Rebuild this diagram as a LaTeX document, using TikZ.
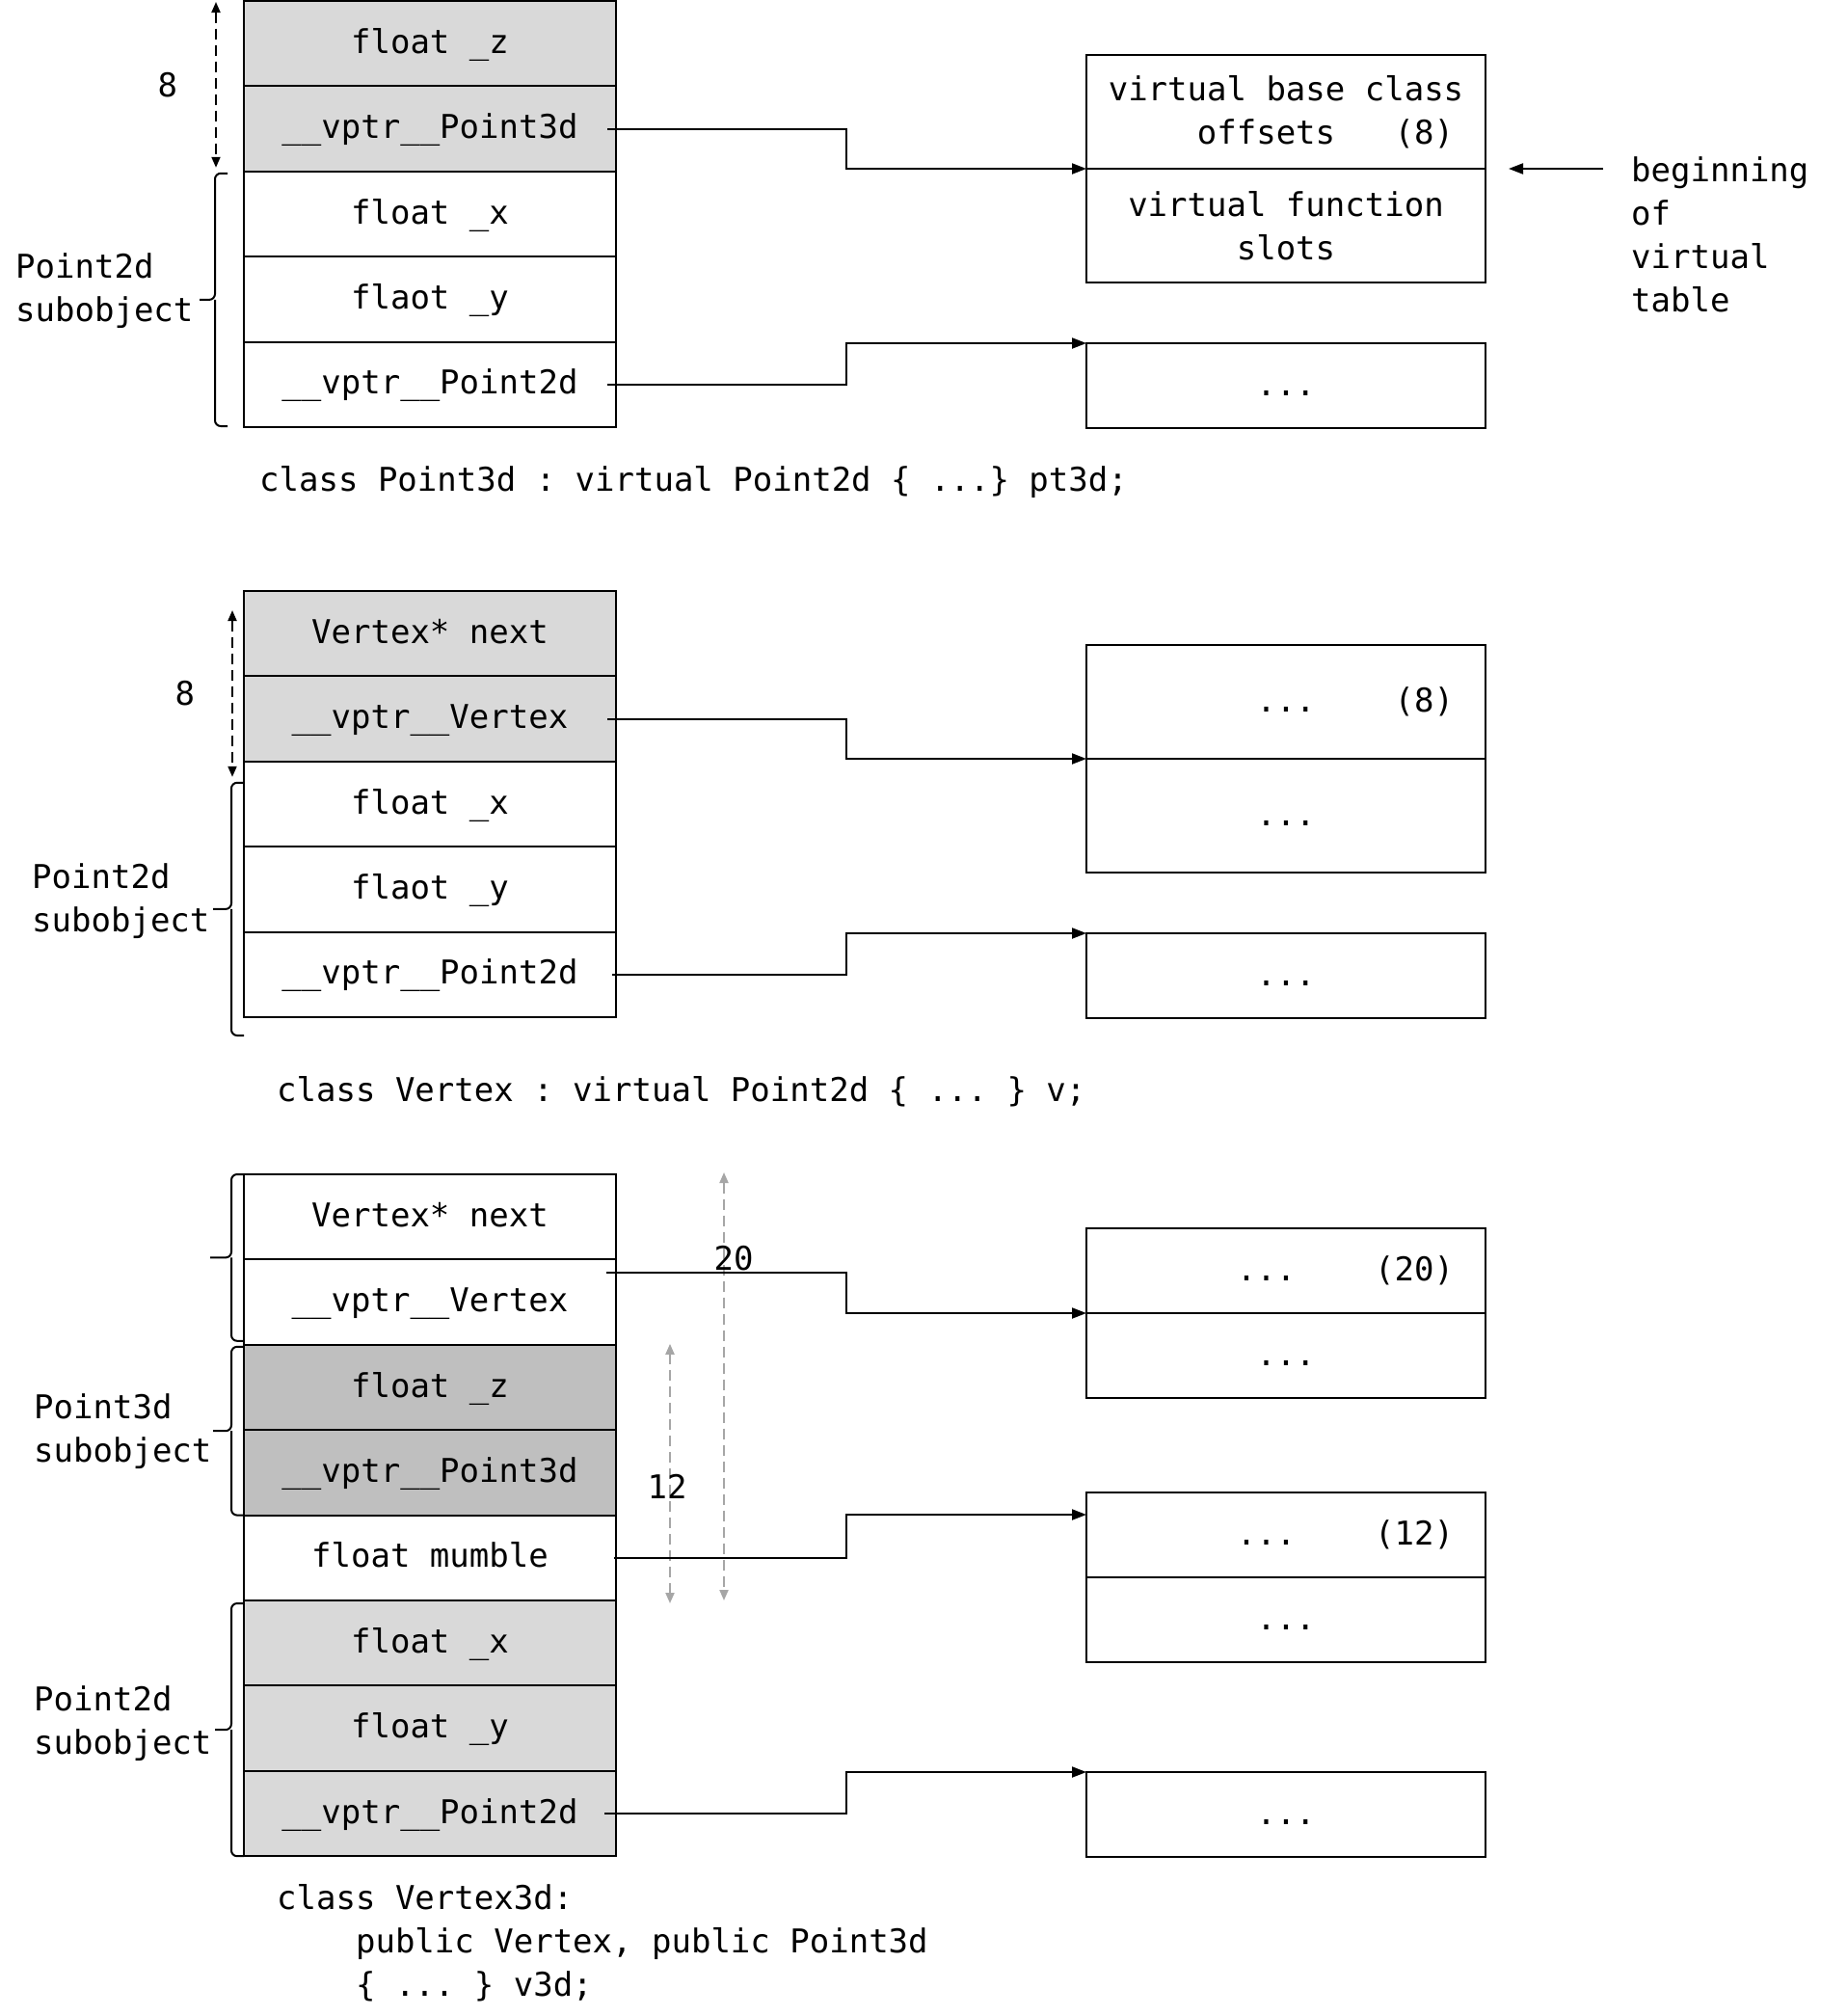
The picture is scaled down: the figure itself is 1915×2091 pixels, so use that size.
\documentclass[tikz,border=0pt]{standalone}
\usepackage{fontspec}
\usepackage{tikz}
\usetikzlibrary{arrows.meta,positioning,calc}
\setmonofont{DejaVu Sans Mono}
\definecolor{lightcell}{HTML}{D9D9D9}
\definecolor{darkcell}{HTML}{BFBFBF}
\definecolor{dimgray}{HTML}{A6A6A6}
\tikzset{
  cell/.style    ={draw,line width=2pt,minimum width=386pt,minimum height=88.4pt,
                   inner sep=0pt,outer sep=0pt,text height=27pt,text depth=7pt},
  slot/.style    ={draw,line width=2pt,minimum width=414pt,minimum height=88pt,
                   inner sep=0pt,outer sep=0pt,text height=27pt,text depth=7pt},
  tallslot/.style={slot,minimum height=118pt},
  tallnote/.style={draw,line width=2pt,minimum width=414pt,minimum height=118pt,
                   inner sep=0pt,outer sep=0pt,align=center},
  sidetag/.style ={inner sep=0pt,align=left},
  link/.style    ={-{Triangle[length=15pt,width=11pt]},line width=2pt},
  dimarrow/.style={{Triangle[length=11pt,width=9pt]}-{Triangle[length=11pt,width=9pt]},
                   line width=2pt,dash pattern=on 11pt off 6pt},
  paledim/.style ={dimarrow,draw=dimgray},
  bracket/.style ={line width=2pt,rounded corners=6pt}
}
\begin{document}
\begin{tikzpicture}[x=1pt,y=-1pt,font=\ttfamily\fontsize{34pt}{45pt}\selectfont]
\useasboundingbox (0,0) rectangle (1915,2091);
\coordinate (bend) at (878,0);

% --- class Point3d : virtual Point2d
\node[cell,fill=lightcell,anchor=north] (pz) at (446,1) {float \_z};
\node[cell,fill=lightcell,below=0pt of pz] (pvp3) {\_\_vptr\_\_Point3d};
\node[cell,below=0pt of pvp3] (px) {float \_x};
\node[cell,below=0pt of px] (py) {flaot \_y};
\node[cell,below=0pt of py] (pvp2) {\_\_vptr\_\_Point2d};
\coordinate (b1t) at ($(px.north west)+(-17,2)$);
\coordinate (b1b) at ($(pvp2.south west)+(-17,-1)$);
\draw[bracket] (b1t) -| ($(b1t)!0.5!(b1b)+(-13,0)$) -- ++(-16,0) ++(16,0) |- (b1b);
\node[sidetag,anchor=west] (p2sub) at (16,302) {Point2d\\subobject};
\draw[dimarrow] ($(pz.north west)+(-29,1)$) -- node[left=39pt,inner sep=0pt] (off8a) {8}
  ($(pvp3.south west)+(-29,-4)$);

\node[tallnote,anchor=north] (vbo) at (1334,57) {virtual base class\\\hphantom{0000}offsets~~~(8)};
\node[tallnote,below=0pt of vbo] (vfs) {virtual function\\slots};
\node[slot,anchor=north] (p2tab) at (1334,356) {...};
\node[sidetag,anchor=west] (vtbeg) at (1692,243) {beginning\\of\\virtual\\table};

\coordinate (s1) at ($(pvp3.east)+(-9,0)$);
\coordinate (s2) at ($(pvp2.east)+(-9,0)$);
\draw[link] (s1) -- (s1 -| bend) |- (vfs.north west);
\draw[link] (s2) -- (s2 -| bend) |- (p2tab.north west);
\draw[link] ($(vtbeg.west |- vfs.north)+(-29,0)$) -- ($(vfs.north east)+(24,0)$);

\node[sidetag,anchor=west] (pt3dcap) at (269,500) {class Point3d : virtual Point2d \{ ...\} pt3d;};

% --- class Vertex : virtual Point2d
\node[cell,fill=lightcell,anchor=north] (vnext) at (446,613) {Vertex* next};
\node[cell,fill=lightcell,below=0pt of vnext] (vvp) {\_\_vptr\_\_Vertex};
\node[cell,below=0pt of vvp] (vx) {float \_x};
\node[cell,below=0pt of vx] (vy) {flaot \_y};
\node[cell,below=0pt of vy] (vvp2) {\_\_vptr\_\_Point2d};
\coordinate (b2t) at ($(vx.north west)+(0,22)$);
\coordinate (b2b) at ($(vvp2.south west)+(0,19)$);
\draw[bracket] (b2t) -| ($(b2t)!0.5!(b2b)+(-13,0)$) -- ++(-19,0) ++(19,0) |- (b2b);
\node[sidetag,anchor=west] (p2subv) at (33,935) {Point2d\\subobject};
\draw[dimarrow] ($(vnext.north west)+(-12,20)$) -- node[left=38pt,inner sep=0pt] (off8b) {8}
  ($(vvp.south west)+(-12,16)$);

\node[tallslot,anchor=north] (vtop) at (1334,669) {\hphantom{0000000}...~~~~(8)};
\node[tallslot,below=0pt of vtop] (vbot) {...};
\node[slot,anchor=north] (vdtab) at (1334,968) {...};

\coordinate (s3) at ($(vvp.east)+(-9,0)$);
\coordinate (s4) at ($(vvp2.east)+(-4,0)$);
\draw[link] (s3) -- (s3 -| bend) |- (vbot.north west);
\draw[link] (s4) -- (s4 -| bend) |- (vdtab.north west);

\node[sidetag,anchor=west] (vcap) at (287,1132) {class Vertex : virtual Point2d \{ ... \} v;};

% --- class Vertex3d : public Vertex, public Point3d
\node[cell,anchor=north] (wnext) at (446,1218) {Vertex* next};
\node[cell,below=0pt of wnext] (wvp) {\_\_vptr\_\_Vertex};
\node[cell,fill=darkcell,below=0pt of wvp] (wz) {float \_z};
\node[cell,fill=darkcell,below=0pt of wz] (wvp3) {\_\_vptr\_\_Point3d};
\node[cell,below=0pt of wvp3] (wmum) {float mumble};
\node[cell,fill=lightcell,below=0pt of wmum] (wx) {float \_x};
\node[cell,fill=lightcell,below=0pt of wx] (wy) {float \_y};
\node[cell,fill=lightcell,below=0pt of wy] (wvp2) {\_\_vptr\_\_Point2d};
\coordinate (b3t) at (wnext.north west);
\coordinate (b3b) at ($(wvp.south west)+(0,-4)$);
\coordinate (b4t) at ($(wz.north west)+(0,2)$);
\coordinate (b4b) at (wvp3.south west);
\coordinate (b5t) at ($(wx.north west)+(0,3)$);
\coordinate (b5b) at (wvp2.south west);
\draw[bracket] (b3t) -| ($(b3t)!0.5!(b3b)+(-13,0)$) -- ++(-22,0) ++(22,0) |- (b3b);
\draw[bracket] (b4t) -| ($(b4t)!0.5!(b4b)+(-13,0)$) -- ++(-19,0) ++(19,0) |- (b4b);
\draw[bracket] (b5t) -| ($(b5t)!0.5!(b5b)+(-13,0)$) -- ++(-17,0) ++(17,0) |- (b5b);
\node[sidetag,anchor=west] (p3subw) at (35,1485) {Point3d\\subobject};
\node[sidetag,anchor=west] (p2subw) at (35,1788) {Point2d\\subobject};

\draw[paledim] ($(wnext.north east)+(112,-2)$) -- node[pos=0.2,xshift=10pt,inner sep=0pt] (off20) {20}
  ($(wmum.south east)+(112,0)$);
\draw[paledim] ($(wz.north east)+(56,-1)$) -- node[pos=0.55,xshift=-3pt,inner sep=0pt] (off12) {12}
  ($(wmum.south east)+(56,3)$);

\node[slot,anchor=north] (w20) at (1334,1274) {\hphantom{000000}...~~~~(20)};
\node[slot,below=0pt of w20] (w20b) {...};
\node[slot,anchor=north] (w12) at (1334,1548) {\hphantom{000000}...~~~~(12)};
\node[slot,below=0pt of w12] (w12b) {...};
\node[slot,anchor=north] (w2tab) at (1334,1838) {...};
\coordinate (w12in) at ($(w12.north west)+(0,23)$);

\coordinate (t1) at ($(wvp.east)+(-10,-31)$);
\coordinate (t2) at ($(wmum.east)+(-2,0)$);
\coordinate (t3) at ($(wvp2.east)+(-12,0)$);
\draw[link] (t1) -- (t1 -| bend) |- (w20b.north west);
\draw[link] (t2) -- (t2 -| bend) |- (w12in);
\draw[link] (t3) -- (t3 -| bend) |- (w2tab.north west);

\node[sidetag,anchor=west] (v3dcap) at (287,2015)
  {class Vertex3d:\\\hphantom{0000}public Vertex, public Point3d\\\hphantom{0000}\{ ... \} v3d;};
\end{tikzpicture}
\end{document}
